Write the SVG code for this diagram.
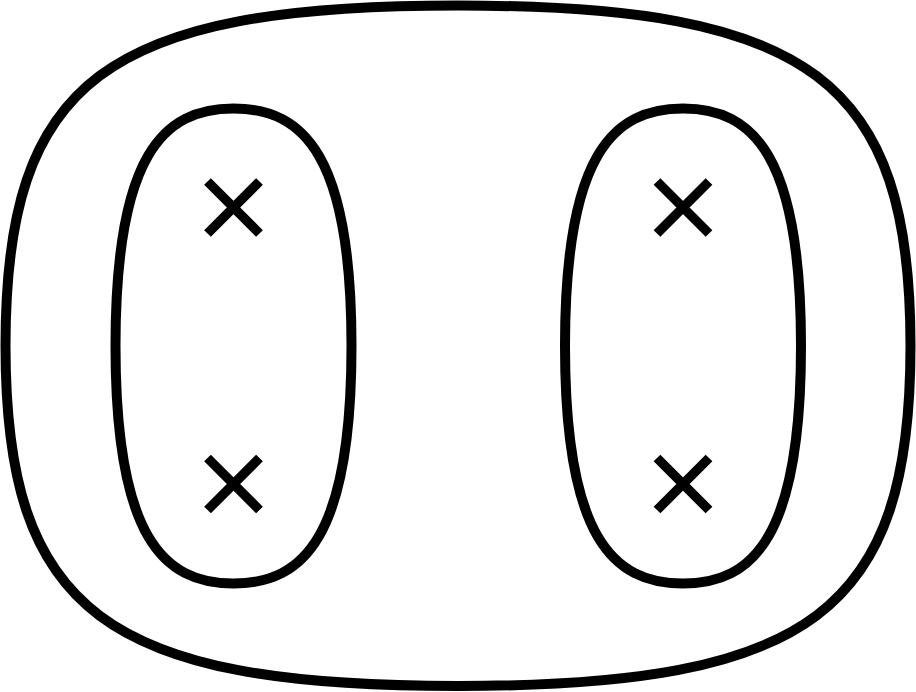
<svg xmlns="http://www.w3.org/2000/svg" xmlns:xlink="http://www.w3.org/1999/xlink" width="916" height="692" viewBox="0 0 916 692">
  <style>
    .loop { fill: none; stroke: #000; stroke-width: 10; }
    .mark { fill: none; stroke: #000; stroke-width: 9.5; stroke-linecap: butt; }
  </style>
  <defs>
    <path id="cross" class="mark" d="M-26,-26 L26,26 M-26,26 L26,-26"/>
  </defs>
  <rect x="0" y="0" width="916" height="692" fill="#fff"/>
  <g id="outer">
    <path class="loop" d="M458,5.5 C105,5.5 5.5,80.35 5.5,345.75 C5.5,611.15 105,686 458,686 C811,686 910.5,611.15 910.5,345.75 C910.5,80.35 811,5.5 458,5.5 Z"/>
  </g>
  <g id="inner-left">
    <path class="loop" d="M233.5,108.5 C162.7,108.5 115.5,156 115.5,346 C115.5,536 162.7,583.5 233.5,583.5 C304.3,583.5 351.5,536 351.5,346 C351.5,156 304.3,108.5 233.5,108.5 Z"/>
  </g>
  <g id="inner-right">
    <path class="loop" d="M683,108.5 C612.2,108.5 565,156 565,346 C565,536 612.2,583.5 683,583.5 C753.8,583.5 801,536 801,346 C801,156 753.8,108.5 683,108.5 Z"/>
  </g>
  <g id="mark-left-top"><use xlink:href="#cross" href="#cross" x="233.5" y="207.5"/></g>
  <g id="mark-left-bottom"><use xlink:href="#cross" href="#cross" x="233.5" y="484"/></g>
  <g id="mark-right-top"><use xlink:href="#cross" href="#cross" x="683" y="207.5"/></g>
  <g id="mark-right-bottom"><use xlink:href="#cross" href="#cross" x="683" y="484"/></g>
  <g id="connectors"></g>
</svg>
